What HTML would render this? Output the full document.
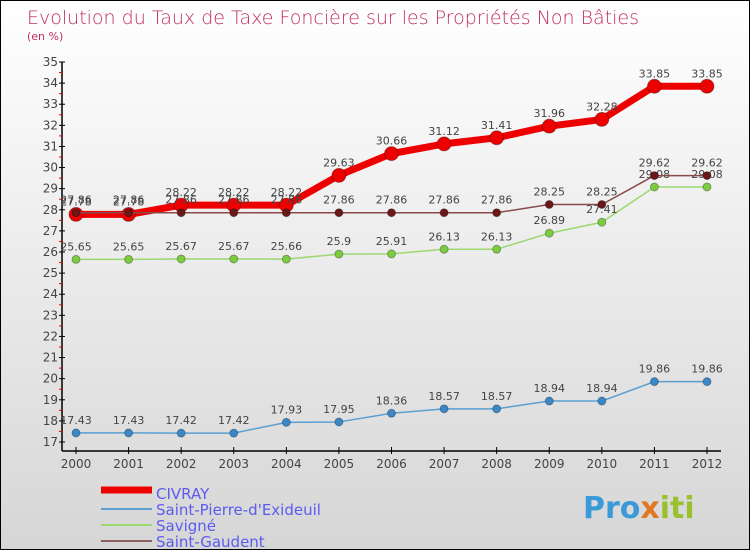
<!DOCTYPE html>
<html><head><meta charset="utf-8"><style>
body{margin:0}
#c{width:750px;height:550px;position:relative;box-sizing:border-box;border:1px solid #000;background:linear-gradient(#fff,#d6d6d6);overflow:hidden;font-family:"DejaVu Sans","Liberation Sans",sans-serif}
</style></head><body>
<div id="c">
<svg id="s" width="748" height="548" style="position:absolute;left:0;top:0">
<text x="26" y="23" font-size="19" fill="#c0305a" font-family="DejaVu Sans, sans-serif" font-weight="200">Evolution du Taux de Taxe Foncière sur les Propriétés Non Bâties</text>
<text x="26" y="39" font-size="11" fill="#c0305a">(en %)</text>
<text x="582" y="517" font-size="30" font-weight="bold" fill="#3a9ad9">Pro<tspan fill="#e07820">x</tspan><tspan fill="#9ac030">iti</tspan></text>
</svg>
</div>
<script>
const years=[2000,2001,2002,2003,2004,2005,2006,2007,2008,2009,2010,2011,2012];
const civray=[27.78,27.78,28.22,28.22,28.22,29.63,30.66,31.12,31.41,31.96,32.28,33.85,33.85];
const stpierre=[17.43,17.43,17.42,17.42,17.93,17.95,18.36,18.57,18.57,18.94,18.94,19.86,19.86];
const savigne=[25.65,25.65,25.67,25.67,25.66,25.9,25.91,26.13,26.13,26.89,27.41,29.08,29.08];
const stgaudent=[27.86,27.86,27.86,27.86,27.86,27.86,27.86,27.86,27.86,28.25,28.25,29.62,29.62];
const yTicks=[17,18,19,20,21,22,23,24,25,26,27,28,29,30,31,32,33,34,35];
const svg=document.getElementById('s');
const NS='http://www.w3.org/2000/svg';
const X=i=>75+i*(706-75)/12;
const Y=v=>441-(v-17)*(380/18);
function el(t,a,p){const e=document.createElementNS(NS,t);for(const k in a)e.setAttribute(k,a[k]);(p||svg).appendChild(e);return e;}
let ax=el('line',{x1:61,y1:61,x2:61,y2:450,stroke:'#000','stroke-width':1.5});


let xa=el('line',{x1:61,y1:450,x2:720,y2:450,stroke:'#000','stroke-width':1.5});


yTicks.forEach(v=>{
 el('line',{x1:58,y1:Y(v),x2:64,y2:Y(v),stroke:'#000'});
 if(v<35) el('line',{x1:58,y1:Y(v+0.5),x2:61,y2:Y(v+0.5),stroke:'#e00'});
 const t=el('text',{x:57,y:Y(v)+4,'text-anchor':'end','font-size':12,fill:'#444'});
 t.textContent=v;
 
 
});
years.forEach((y,i)=>{
 el('line',{x1:X(i),y1:446,x2:X(i),y2:453,stroke:'#000'});
 const t=el('text',{x:X(i),y:467,'text-anchor':'middle','font-size':12,fill:'#444'});
 t.textContent=y;
 
 
});
function series(d,color,w,r,dot,name){
 const g=el('g',{});
 
 
 el('polyline',{points:d.map((v,i)=>X(i)+','+Y(v)).join(' '),fill:'none',stroke:color,'stroke-width':w,'stroke-linejoin':'round'},g);
 d.forEach((v,i)=>{
  const c=el('circle',{cx:X(i),cy:Y(v),r:r,fill:dot,stroke:'rgba(0,0,0,0.3)'},g);
  
  
  const t=el('text',{x:X(i),y:Y(v)-9,'text-anchor':'middle','font-size':11,fill:'#444'},g);
  t.textContent=v;
 });
}
series(stpierre,'#5a9fd0',1.5,4,'#3a88c8','series-saint-pierre');
series(savigne,'#9ad870',1.5,4,'#7ccc40','series-savigne');
series(civray,'#ee0000',7,7,'#ee0000','series-civray');
series(stgaudent,'#8b4a4a',1.5,4,'#6a1818','series-saint-gaudent');
const leg=[['CIVRAY','#ee0000',7],["Saint-Pierre-d'Exideuil",'#5a9fd0',2],['Savigné','#9ad870',2],['Saint-Gaudent','#906060',2]];
leg.forEach((l,i)=>{
 const y=492+i*16;
 const g=el('g',{});
 
 
 el('line',{x1:100,y1:y+(i==0?-3:0),x2:151,y2:y+(i==0?-3:0),stroke:l[1],'stroke-width':l[2]},g);
 const t=el('text',{x:155,y:y+6,'font-size':15,fill:'#5b5bf0'},g);
 t.textContent=l[0];
});
</script>
</body></html>
